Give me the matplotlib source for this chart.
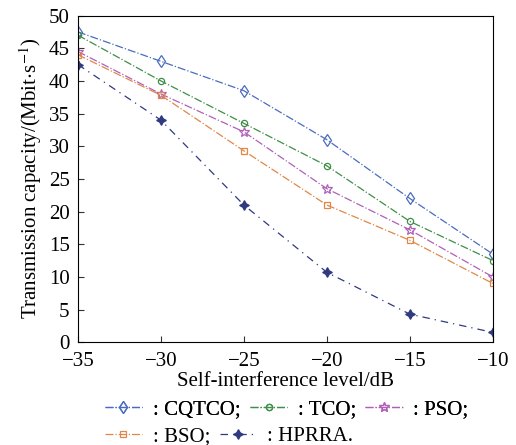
import numpy as np
import matplotlib
matplotlib.use("Agg")
import matplotlib.pyplot as plt

plt.rcParams['font.family'] = ['Liberation Serif', 'DejaVu Serif']
plt.rcParams['mathtext.fontset'] = 'stix'

# data
levels = [-35, -30, -25, -20, -15, -10]
cqtco = [47.5, 43.0, 38.5, 31.0, 22.0, 13.5]
tco = [47.0, 40.0, 33.5, 27.0, 18.5, 12.5]
pso = [44.5, 38.0, 32.2, 23.5, 17.2, 10.0]
bso = [44.0, 37.8, 29.3, 21.0, 15.6, 9.0]
hprra = [42.5, 34.0, 21.0, 10.7, 4.3, 1.5]

fig = plt.figure(figsize=(5.16, 4.45), dpi=100)
ax = fig.add_axes([0.151, 0.231, 0.804, 0.734])

l1, = ax.plot(levels, cqtco, color='#4a6cc0', ls='-.', lw=0.9, marker='d', ms=6, mfc='none', mew=0.9, label=': CQTCO;')
l2, = ax.plot(levels, tco, color='#3f8f48', ls='-.', lw=0.9, marker='o', ms=4.5, mfc='none', mew=0.9, label=': TCO;')
l3, = ax.plot(levels, pso, color='#b060b8', ls='-.', lw=0.9, marker='*', ms=7, mfc='none', mew=0.9, label=': PSO;')
l4, = ax.plot(levels, bso, color='#e08848', ls='-.', lw=0.9, marker='s', ms=5, mfc='none', mew=0.9, label=': BSO;')
l5, = ax.plot(levels, hprra, color='#2f3a80', ls=(0, (6, 4, 1, 4)), lw=0.9, marker=(4, 1, 0), ms=7, mew=0.9, label=': HPRRA.')

ax.set_xlim(-35, -10)
ax.set_ylim(0, 50)
ax.set_xticks([-35, -30, -25, -20, -15, -10])
ax.set_xticklabels(['\u221235', '\u221230', '\u221225', '\u221220', '\u221215', '\u221210'])
ax.set_yticks(np.arange(0, 51, 5))
ax.tick_params(direction='in', labelsize=15, length=4, color='#333333')
ax.tick_params(axis='y', pad=6)
ax.tick_params(axis='x', pad=7)
ax.set_xlabel('Self-interference level/dB', fontsize=15, labelpad=1)
ax.set_ylabel(r'Transmission capacity/(Mbit$\cdot$s$^{-1}$)', fontsize=15, labelpad=3)

# legend in two flowing rows
def legendRow(hs, y):
    lg = fig.legend(hs, [h.get_label() for h in hs], loc='center left',
                    bbox_to_anchor=(0.203, y), ncol=len(hs), frameon=False,
                    fontsize=15, handlelength=1.8, handletextpad=0.5,
                    columnspacing=0.45, borderpad=0, borderaxespad=0)
    return lg

leg1 = legendRow([l1, l2, l3], 0.079)
legendRow([l4, l5], 0.02)
fig.add_artist(leg1)

fig.savefig('out.png', dpi=100)
